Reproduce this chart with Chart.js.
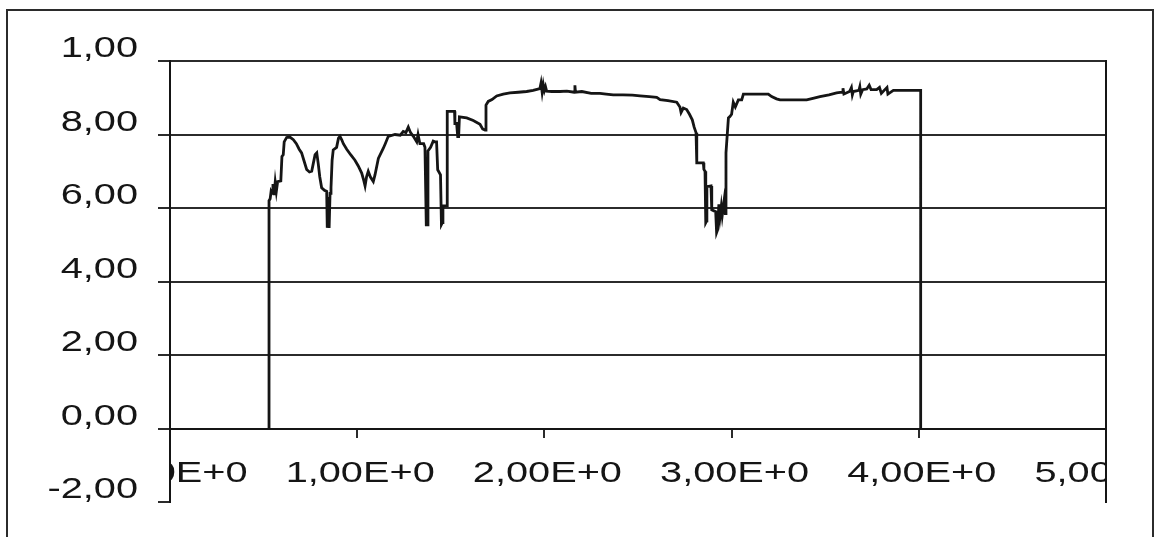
<!DOCTYPE html>
<html>
<head>
<meta charset="utf-8">
<title>Signal</title>
<script src="https://cdn.jsdelivr.net/npm/chart.js@4.4.1/dist/chart.umd.min.js"></script>
<style>
  html, body { margin: 0; padding: 0; background: #fff; }
  canvas { display: block; }
</style>
</head>
<body>
<canvas id="chart" width="1157" height="537"></canvas>
<script>
// Measured trace: x positions and the matching values
const xValues = [
  0.529, 0.529, 0.535, 0.540, 0.545, 0.550, 0.556, 0.562, 0.568, 0.575, 0.592, 0.598, 0.605, 0.610, 0.623,
  0.640, 0.659, 0.675, 0.690, 0.703, 0.715, 0.730, 0.745, 0.757, 0.765, 0.775, 0.784, 0.792, 0.800, 0.810,
  0.825, 0.837, 0.840, 0.846, 0.850, 0.855, 0.860, 0.866, 0.872, 0.890, 0.900, 0.908, 0.918, 0.926, 0.944,
  0.965, 0.988, 1.005, 1.024, 1.035, 1.042, 1.050, 1.059, 1.070, 1.086, 1.095, 1.113, 1.139, 1.150, 1.166,
  1.202, 1.230, 1.246, 1.260, 1.273, 1.285, 1.300, 1.318, 1.325, 1.335, 1.355, 1.362, 1.369, 1.373, 1.378,
  1.392, 1.406, 1.415, 1.424, 1.430, 1.445, 1.450, 1.455, 1.458, 1.480, 1.481, 1.520, 1.522, 1.531, 1.537,
  1.542, 1.546, 1.585, 1.620, 1.656, 1.670, 1.683, 1.688, 1.700, 1.720, 1.745, 1.780, 1.816, 1.860, 1.905,
  1.940, 1.976, 1.982, 1.988, 1.994, 2.000, 2.006, 2.012, 2.040, 2.083, 2.120, 2.160, 2.163, 2.166, 2.200,
  2.250, 2.297, 2.330, 2.368, 2.420, 2.470, 2.511, 2.560, 2.600, 2.618, 2.660, 2.707, 2.724, 2.730, 2.742,
  2.760, 2.775, 2.790, 2.800, 2.810, 2.814, 2.849, 2.852, 2.858, 2.862, 2.867, 2.868, 2.890, 2.894, 2.915,
  2.920, 2.925, 2.932, 2.938, 2.945, 2.950, 2.960, 2.966, 2.970, 2.983, 2.991, 3.000, 3.009, 3.020, 3.036,
  3.054, 3.063, 3.196, 3.214, 3.240, 3.259, 3.401, 3.440, 3.472, 3.520, 3.561, 3.590, 3.595, 3.600, 3.630,
  3.640, 3.645, 3.650, 3.680, 3.685, 3.690, 3.700, 3.722, 3.735, 3.745, 3.775, 3.790, 3.800, 3.815, 3.830,
  3.835, 3.864, 3.953, 4.010, 4.010
];
const yValues = [
  0.00, 6.20, 6.25, 6.45, 6.40, 6.65, 6.35, 6.70, 6.45, 6.72, 6.74, 7.40, 7.45, 7.80, 7.92,
  7.93, 7.86, 7.75, 7.60, 7.50, 7.30, 7.05, 6.98, 7.00, 7.20, 7.45, 7.50, 7.20, 6.85, 6.55,
  6.48, 6.45, 5.46, 6.30, 5.46, 6.40, 6.55, 7.30, 7.58, 7.65, 7.90, 7.95, 7.85, 7.75, 7.60,
  7.45, 7.30, 7.15, 6.95, 6.75, 6.60, 6.85, 7.00, 6.85, 6.72, 6.90, 7.35, 7.62, 7.75, 7.95,
  8.00, 7.98, 8.08, 8.05, 8.20, 8.05, 7.95, 7.80, 8.00, 7.75, 7.75, 7.65, 5.54, 5.54, 7.55,
  7.65, 7.82, 7.80, 7.80, 7.04, 6.90, 5.55, 5.60, 6.06, 6.06, 8.63, 8.63, 8.30, 8.30, 7.94,
  7.94, 8.48, 8.45, 8.38, 8.28, 8.15, 8.12, 8.80, 8.90, 8.95, 9.05, 9.10, 9.13, 9.15, 9.17,
  9.20, 9.25, 9.40, 9.15, 9.36, 9.20, 9.30, 9.18, 9.17, 9.17, 9.18, 9.15, 9.34, 9.15, 9.17,
  9.12, 9.12, 9.10, 9.08, 9.08, 9.07, 9.05, 9.03, 9.01, 8.95, 8.92, 8.88, 8.75, 8.60, 8.72,
  8.68, 8.55, 8.40, 8.20, 8.05, 7.23, 7.23, 7.05, 7.00, 5.60, 5.65, 6.58, 6.60, 5.95, 5.90,
  5.33, 5.40, 6.10, 5.75, 6.05, 5.80, 6.20, 5.85, 7.50, 8.45, 8.49, 8.55, 8.88, 8.75, 8.94,
  8.94, 9.10, 9.10, 9.03, 8.97, 8.94, 8.94, 8.99, 9.03, 9.08, 9.13, 9.15, 9.26, 9.10, 9.17,
  9.28, 9.08, 9.17, 9.20, 9.30, 9.10, 9.22, 9.24, 9.34, 9.22, 9.22, 9.28, 9.12, 9.20, 9.28,
  9.10, 9.20, 9.20, 9.20, 0.00
];

// Axis ticks and their printed labels
const xTickValues = [0, 1, 2, 3, 4, 5];
const xTickLabels = ['0,00E+0', '1,00E+0', '2,00E+0', '3,00E+0', '4,00E+0', '5,00E+0'];
const yTickValues = [-2, 0, 2, 4, 6, 8, 10];
const yTickLabels = ['-2,00', '0,00', '2,00', '4,00', '6,00', '8,00', '1,00'];

const points = xValues.map((x, i) => ({ x: x, y: yValues[i] }));

const LABEL_FONT = '29px "Liberation Sans", Arial, sans-serif';
const WIDE = 1.37; // horizontal stretch of the axis lettering
const INK = '#151515';
const RULE = '#2b2b2b';

// White page with the outer frame around the chart
const framePlugin = {
  id: 'frame',
  beforeDraw(chart) {
    const ctx = chart.ctx;
    ctx.save();
    ctx.fillStyle = '#fff';
    ctx.fillRect(0, 0, chart.width, chart.height);
    ctx.strokeStyle = RULE;
    ctx.lineWidth = 2;
    ctx.strokeRect(7, 10, 1146, 700);
    ctx.restore();
  }
};

// Wide axis lettering; the category labels are cut off at the plot edges
const axisTextPlugin = {
  id: 'axisText',
  afterDraw(chart) {
    const { ctx, chartArea, scales } = chart;
    const xs = scales.x, ys = scales.y;
    ctx.save();
    ctx.font = LABEL_FONT;
    ctx.fillStyle = INK;
    ctx.textBaseline = 'alphabetic';

    ctx.save();
    ctx.scale(WIDE, 1);
    ctx.textAlign = 'right';
    const rightEdge = chartArea.left - 32;
    yTickValues.forEach((v, i) => {
      ctx.fillText(yTickLabels[i], rightEdge / WIDE, ys.getPixelForValue(v) - 4);
    });
    ctx.restore();

    ctx.save();
    ctx.beginPath();
    ctx.rect(chartArea.left + 1, 0, chartArea.right - chartArea.left - 1, chart.height);
    ctx.clip();
    ctx.scale(WIDE, 1);
    ctx.textAlign = 'center';
    const base = ys.getPixelForValue(0) + 53;
    xTickValues.forEach((v, i) => {
      ctx.fillText(xTickLabels[i], (xs.getPixelForValue(v) + 3) / WIDE, base);
    });
    ctx.restore();

    ctx.restore();
  }
};

new Chart(document.getElementById('chart'), {
  type: 'line',
  data: {
    datasets: [{
      data: points,
      borderColor: INK,
      borderWidth: 2.8,
      pointRadius: 0,
      tension: 0,
      fill: false,
      borderJoinStyle: 'miter'
    }]
  },
  options: {
    responsive: false,
    animation: false,
    devicePixelRatio: 1,
    parsing: false,
    layout: { padding: { left: 158, top: 61, right: 51, bottom: 35 } },
    plugins: { legend: { display: false }, tooltip: { enabled: false } },
    scales: {
      x: {
        type: 'linear',
        min: 0,
        max: 5,
        position: { y: 0 },
        ticks: { display: false, stepSize: 1 },
        grid: { drawOnChartArea: false, drawTicks: true, tickLength: 8, color: RULE, lineWidth: 2 },
        border: { display: true, color: INK, width: 2 }
      },
      y: {
        type: 'linear',
        min: -2,
        max: 10,
        ticks: { display: false, stepSize: 2 },
        grid: {
          color: (c) => (c.tick && c.tick.value === -2 ? 'rgba(0,0,0,0)' : RULE),
          tickColor: RULE,
          lineWidth: 2,
          drawTicks: true,
          tickLength: 12
        },
        border: { display: true, color: INK, width: 2 },
        afterFit(scale) { scale.width = 12; }
      },
      y2: {
        type: 'linear',
        position: 'right',
        min: -2,
        max: 10,
        ticks: { display: false },
        grid: { drawOnChartArea: false, drawTicks: false },
        border: { display: true, color: INK, width: 2 },
        afterFit(scale) { scale.width = 0; }
      }
    }
  },
  plugins: [framePlugin, axisTextPlugin]
});
</script>
</body>
</html>
